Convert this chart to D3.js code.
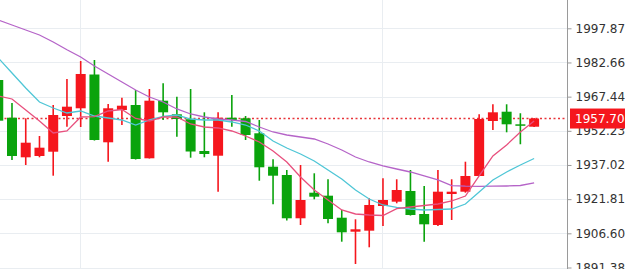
<!DOCTYPE html>
<html>
<head>
<meta charset="utf-8">
<script src="https://cdn.jsdelivr.net/npm/d3@7"></script>
<style>
  body { margin: 0; background: #fff; }
  svg { display: block; font-family: "DejaVu Sans", Verdana, sans-serif; }
</style>
</head>
<body>
<div id="chart"></div>
<script>
// candle index (no date labels are shown on the chart)
var candles = d3.range(40);

var opens = [1974.85, 1958.07, 1940.44, 1941.02, 1942.93, 1958.83, 1962.26, 1977.30, 1947.12, 1961.50,
             1963.72, 1940.00, 1965.64, 1959.58, 1957.40, 1943.25, 1941.15, 1958.07, 1957.80, 1951.13,
             1936.26, 1932.56, 1913.29, 1924.68, 1923.35, 1913.55, 1907.32, 1907.77, 1918.76, 1920.68,
             1925.44, 1915.20, 1910.30, 1924.10, 1925.13, 1932.12, 1956.60, 1960.74, 1955.13, 1954.06];
var highs = [1976.20, 1964.62, 1957.80, 1949.92, 1963.72, 1975.30, 1983.31, 1983.76, 1964.17, 1966.97,
             1970.40, 1970.85, 1973.39, 1967.42, 1970.85, 1960.47, 1960.47, 1968.18, 1958.83, 1957.05,
             1939.55, 1934.79, 1937.01, 1933.32, 1930.65, 1916.98, 1912.84, 1922.19, 1931.09, 1930.65,
             1934.79, 1927.67, 1934.79, 1930.65, 1938.48, 1959.58, 1964.04, 1964.04, 1960.03, 1957.90];
var lows = [1955.50, 1939.24, 1937.01, 1940.44, 1932.25, 1954.06, 1953.93, 1947.90, 1938.48, 1954.82,
            1939.45, 1939.90, 1957.05, 1949.61, 1940.26, 1940.44, 1925.13, 1954.06, 1948.14, 1930.02,
            1919.52, 1912.31, 1910.30, 1921.74, 1911.06, 1902.87, 1892.94, 1900.38, 1909.86, 1919.96,
            1914.50, 1902.87, 1909.86, 1912.53, 1924.68, 1932.12, 1952.60, 1951.57, 1946.23, 1953.90];
var closes = [1956.74, 1941.02, 1946.94, 1944.72, 1959.27, 1962.97, 1977.53, 1948.14, 1962.26, 1963.41,
              1939.68, 1965.64, 1960.47, 1957.49, 1943.02, 1941.91, 1958.07, 1957.05, 1950.37, 1935.99,
              1932.25, 1913.29, 1921.43, 1922.90, 1912.97, 1907.05, 1908.39, 1919.21, 1921.43, 1925.88,
              1914.75, 1910.61, 1925.13, 1925.13, 1932.12, 1957.49, 1960.47, 1955.13, 1954.51, 1957.70];

// moving average lines
var maFast = [1967.73, 1966.40, 1961.50, 1956.60, 1951.26, 1952.15, 1958.38, 1958.52, 1961.06, 1961.72,
              1957.72, 1956.60, 1958.38, 1958.38, 1955.27, 1953.93, 1953.49, 1952.15, 1949.93, 1947.25,
              1943.25, 1938.35, 1931.67, 1925.89, 1921.43, 1916.98, 1915.20, 1914.76, 1914.53, 1917.60,
              1918.32, 1918.99, 1919.65, 1920.99, 1923.21, 1932.12, 1941.02, 1945.92, 1951.71, 1956.60];
var maMid = [1984.65, 1977.97, 1971.29, 1965.06, 1962.39, 1960.16, 1961.06, 1958.83, 1957.94, 1957.05,
             1954.82, 1957.05, 1958.61, 1959.27, 1957.49, 1957.05, 1957.05, 1956.16, 1954.82, 1952.15,
             1947.70, 1944.58, 1941.91, 1938.80, 1934.79, 1930.78, 1925.89, 1921.88, 1919.21, 1918.10,
             1917.43, 1916.98, 1917.20, 1917.43, 1919.65, 1925.00, 1930.34, 1933.90, 1937.02, 1939.91];
var maSlow = [2001.57, 1999.34, 1997.11, 1994.89, 1991.77, 1988.34, 1985.09, 1981.09, 1977.53, 1973.97,
              1970.40, 1967.29, 1965.06, 1961.95, 1959.72, 1958.38, 1957.49, 1957.05, 1956.38, 1953.93,
              1951.71, 1950.37, 1949.48, 1948.59, 1946.36, 1943.69, 1940.58, 1938.35, 1936.57, 1935.23,
              1933.90, 1932.12, 1930.34, 1927.80, 1927.58, 1927.53, 1927.58, 1927.67, 1927.89, 1929.09];

var yTicks = [1997.87, 1982.66, 1967.44, 1952.23, 1937.02, 1921.81, 1906.60, 1891.38];
var gridCandles = [6, 28];
var lastPrice = 1957.70;

var width = 625, height = 269;
var plotRight = 567.5;

var red = "#f5161d", green = "#0aa30c";

var svg = d3.select("#chart").append("svg")
    .attr("width", width)
    .attr("height", height);

var x = d3.scaleLinear()
    .domain([0.127, 41.43])
    .range([0, plotRight]);

var y = d3.scaleLinear()
    .domain([1891.38, 1997.87])
    .range([267.5, 28.3]);

svg.append("clipPath").attr("id", "plot")
    .append("rect").attr("x", 0).attr("y", 0).attr("width", plotRight).attr("height", height);

// grid
svg.append("g").selectAll("line.h")
    .data(yTicks).enter().append("line")
    .attr("x1", 0).attr("x2", plotRight)
    .attr("y1", function (d) { return Math.round(y(d)) + 0.5; })
    .attr("y2", function (d) { return Math.round(y(d)) + 0.5; })
    .attr("stroke", "#e9edf1").attr("stroke-width", 1);

svg.append("g").selectAll("line.v")
    .data(gridCandles).enter().append("line")
    .attr("x1", function (d) { return Math.round(x(d)) - 0.5; })
    .attr("x2", function (d) { return Math.round(x(d)) - 0.5; })
    .attr("y1", 0).attr("y2", height)
    .attr("stroke", "#e9edf1").attr("stroke-width", 1);

var plot = svg.append("g").attr("clip-path", "url(#plot)");

// last price dotted line
plot.append("line")
    .attr("x1", 0).attr("x2", plotRight)
    .attr("y1", y(lastPrice)).attr("y2", y(lastPrice))
    .attr("stroke", "#e8343a").attr("stroke-width", 1.5)
    .attr("stroke-dasharray", "2,2.5");

// candles
var candle = plot.selectAll("g.candle")
    .data(candles).enter().append("g")
    .attr("class", "candle");

function colorOf(i) { return closes[i] >= opens[i] ? red : green; }

candle.append("line")
    .attr("x1", function (i) { return x(i); })
    .attr("x2", function (i) { return x(i); })
    .attr("y1", function (i) { return y(highs[i]); })
    .attr("y2", function (i) { return y(lows[i]); })
    .attr("stroke", colorOf)
    .attr("stroke-width", 1.6);

candle.append("rect")
    .attr("x", function (i) { return x(i) - 5; })
    .attr("width", 10)
    .attr("y", function (i) { return y(Math.max(opens[i], closes[i])); })
    .attr("height", function (i) { return Math.max(1.5, Math.abs(y(opens[i]) - y(closes[i]))); })
    .attr("fill", colorOf);

// moving averages
function maLine(values, color) {
    var line = d3.line()
        .x(function (d, i) { return x(i); })
        .y(function (d) { return y(d); });
    plot.append("path")
        .datum(values)
        .attr("d", line)
        .attr("fill", "none")
        .attr("stroke", color)
        .attr("stroke-width", 1.3);
}
maLine(maSlow, "#b564c8");
maLine(maMid, "#4fc6d6");
maLine(maFast, "#e8507e");

// price axis
svg.append("line")
    .attr("x1", plotRight).attr("x2", plotRight)
    .attr("y1", 0).attr("y2", height)
    .attr("stroke", "#9a9a9a").attr("stroke-width", 1);

var yAxis = d3.axisRight(y)
    .tickValues(yTicks)
    .tickFormat(d3.format(".2f"))
    .tickSize(4)
    .tickSizeOuter(0)
    .tickPadding(4);

var ax = svg.append("g")
    .attr("transform", "translate(" + plotRight + ",0)")
    .call(yAxis);
ax.select(".domain").remove();
ax.selectAll(".tick line").attr("stroke", "#9a9a9a");
ax.selectAll(".tick text")
    .attr("fill", "#333")
    .style("font-size", "12px")
    .style("font-family", "'DejaVu Sans', Verdana, sans-serif");

// last price label
var tag = svg.append("g").attr("transform", "translate(570," + y(lastPrice) + ")");
tag.append("rect")
    .attr("x", 0).attr("y", -10)
    .attr("width", 56).attr("height", 20)
    .attr("fill", "#f5161d");
tag.append("text")
    .attr("x", 5).attr("y", 0)
    .attr("dy", "0.36em")
    .attr("fill", "#fff")
    .style("font-size", "12px")
    .text(d3.format(".2f")(lastPrice));
</script>
</body>
</html>
